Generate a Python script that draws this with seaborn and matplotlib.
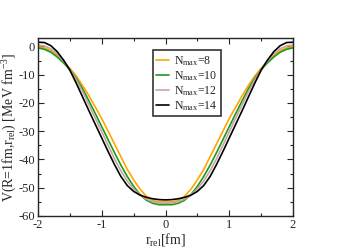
import matplotlib
matplotlib.use('Agg')
import matplotlib.pyplot as plt
import seaborn as sns
import pandas as pd
import numpy as np

# r_rel grid [fm]
r_rel = [-2.0, -1.9, -1.8, -1.7, -1.6, -1.5, -1.4, -1.3, -1.2, -1.1, -1.0,
         -0.9, -0.8, -0.7, -0.6, -0.5, -0.4, -0.3, -0.2, -0.1, 0.0,
         0.1, 0.2, 0.3, 0.4, 0.5, 0.6, 0.7, 0.8, 0.9, 1.0,
         1.1, 1.2, 1.3, 1.4, 1.5, 1.6, 1.7, 1.8, 1.9, 2.0]

v_n8 = [0.0, -0.5, -1.5, -3.2, -5.3, -7.7, -10.5, -13.8, -17.5, -21.5, -25.5,
        -30.0, -34.5, -39.0, -43.5, -47.2, -50.5, -53.0, -54.5, -55.0, -55.0,
        -55.0, -54.5, -53.0, -50.5, -47.2, -43.5, -39.0, -34.5, -30.0, -25.5,
        -21.5, -17.5, -13.8, -10.5, -7.7, -5.3, -3.2, -1.5, -0.5, 0.0]

v_n10 = [-0.5, -1.0, -2.0, -3.7, -5.8, -8.2, -11.3, -15.0, -19.3, -23.8, -28.4,
         -33.0, -37.6, -42.0, -46.0, -49.5, -52.4, -54.4, -55.5, -56.0, -56.0,
         -56.0, -55.5, -54.4, -52.4, -49.5, -46.0, -42.0, -37.6, -33.0, -28.4,
         -23.8, -19.3, -15.0, -11.3, -8.2, -5.8, -3.7, -2.0, -1.0, -0.5]

v_n12 = [0.5, 0.2, -0.8, -2.6, -5.2, -8.2, -11.8, -16.0, -20.7, -25.4, -30.2,
         -35.0, -39.8, -44.0, -47.6, -50.4, -52.5, -54.0, -54.9, -55.4, -55.5,
         -55.4, -54.9, -54.0, -52.5, -50.4, -47.6, -44.0, -39.8, -35.0, -30.2,
         -25.4, -20.7, -16.0, -11.8, -8.2, -5.2, -2.6, -0.8, 0.2, 0.5]

v_n14 = [1.5, 1.4, 0.3, -1.8, -4.8, -8.4, -13.0, -17.9, -22.8, -27.6, -32.4,
         -37.2, -41.8, -46.0, -49.2, -51.3, -52.6, -53.4, -53.9, -54.2, -54.3,
         -54.2, -53.9, -53.4, -52.6, -51.3, -49.2, -46.0, -41.8, -37.2, -32.4,
         -27.6, -22.8, -17.9, -13.0, -8.4, -4.8, -1.8, 0.3, 1.4, 1.5]

labels = [r'N$_{\rm max}$=8', r'N$_{\rm max}$=10', r'N$_{\rm max}$=12', r'N$_{\rm max}$=14']
colors = ['#ffa500', '#1a9a1a', '#c8a4a4', '#000000']

df = pd.concat([
    pd.DataFrame({'r': r_rel, 'V': v, 'N': lab})
    for v, lab in zip([v_n8, v_n10, v_n12, v_n14], labels)
])

sns.set_style('ticks')
plt.rcParams['font.family'] = ['Liberation Serif', 'DejaVu Serif']
plt.rcParams['mathtext.fontset'] = 'custom'
plt.rcParams['mathtext.rm'] = 'Liberation Serif'
plt.rcParams['mathtext.it'] = 'Liberation Serif:italic'

fig = plt.figure(figsize=(3.51, 2.48), dpi=100)
ax = fig.add_axes([38 / 351, 1 - 216 / 248, 255 / 351, 178 / 248])

sns.lineplot(data=df, x='r', y='V', hue='N', palette=colors, linewidth=1.2, ax=ax, sort=False)

ax.set_xlim(-2, 2)
ax.set_ylim(-60, 3)
ax.set_xticks([-2, -1, 0, 1, 2])
ax.set_xticks(np.arange(-2, 2.01, 0.5), minor=True)
ax.set_yticks([-60, -50, -40, -30, -20, -10, 0])
ax.set_yticks(np.arange(-60, 1, 5), minor=True)
ax.set_xticklabels(['-2', '-1', '0', '1', '2'])
ax.set_yticklabels(['-60', '-50', '-40', '-30', '-20', '-10', '0'])
ax.tick_params(which='both', direction='in', top=True, right=True, labelsize=9, width=0.8, pad=2)
ax.tick_params(which='major', length=4)
ax.tick_params(which='minor', length=2)
for s in ax.spines.values():
    s.set_linewidth(1.0)

ax.set_xlabel(r'r$_{\rm rel}$[fm]', fontsize=10, labelpad=0)
ax.set_ylabel(r'V(R=1fm,r$_{\rm rel}$) [MeV fm$^{-3}$]', fontsize=10, labelpad=0)

leg = ax.legend(loc='upper left', bbox_to_anchor=(0.45, 0.93), fontsize=8.5, frameon=True,
                fancybox=False, handlelength=1.1, handletextpad=0.4, borderpad=0.3,
                labelspacing=0.1, borderaxespad=0)
leg.get_frame().set_edgecolor('black')
leg.get_frame().set_linewidth(1.2)

fig.savefig('out.png', dpi=100)
